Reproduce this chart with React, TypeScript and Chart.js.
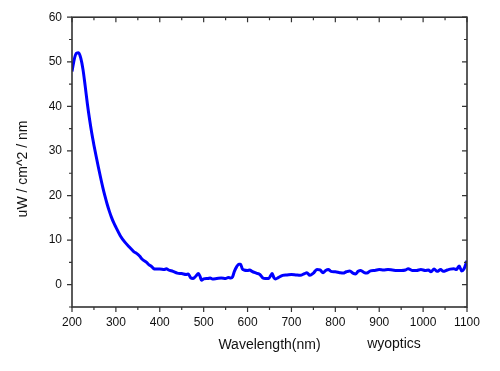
import React, { useEffect, useRef } from "react";
import { Chart, registerables } from "chart.js";

Chart.register(...registerables);

const wavelengths = [
  200, 205, 210, 215, 220, 225, 230, 235, 240, 245, 250, 255, 260, 265, 270, 275, 280, 285, 290, 295,
  300, 310, 320, 330, 340, 350, 355, 360, 370, 375, 380, 385, 390, 400, 410, 415, 420, 430, 440, 450,
  460, 465, 470, 476, 482, 488, 492, 495, 500, 510, 515, 520, 530, 540, 550, 556, 562, 566, 570, 575,
  580, 584, 588, 592, 600, 605, 610, 620, 628, 635, 640, 648, 653, 656, 660, 664, 670, 680, 690, 700,
  710, 720, 730, 735, 742, 750, 758, 765, 772, 778, 784, 790, 800, 810, 818, 825, 833, 840, 846, 852,
  858, 866, 872, 880, 890, 900, 910, 920, 930, 940, 950, 960, 966, 975, 985, 995, 1005, 1012, 1018, 1025,
  1032, 1040, 1046, 1055, 1062, 1070, 1076, 1082, 1088, 1093, 1098, 1100,
];

const irradiance = [
  47.8, 50.5, 51.9, 52.0, 50.8, 48.3, 44.6, 40.6, 37.1, 34.0, 31.3, 28.8, 26.4, 24.1, 21.9, 19.9, 18.1, 16.5, 15.1, 13.9,
  12.9, 11.0, 9.6, 8.5, 7.5, 6.8, 6.3, 5.7, 5.0, 4.5, 4.2, 3.7, 3.5, 3.5, 3.4, 3.6, 3.3, 3.0, 2.6, 2.5,
  2.3, 2.4, 1.6, 1.4, 1.9, 2.5, 1.8, 1.0, 1.3, 1.4, 1.5, 1.3, 1.4, 1.5, 1.4, 1.6, 1.5, 1.8, 3.0, 4.0,
  4.6, 4.6, 3.6, 3.3, 3.2, 3.3, 3.0, 2.6, 2.3, 1.5, 1.4, 1.4, 2.1, 2.5, 1.6, 1.3, 1.6, 2.1, 2.2, 2.3,
  2.2, 2.1, 2.5, 2.7, 2.1, 2.6, 3.4, 3.3, 2.7, 3.2, 3.4, 3.0, 2.9, 2.7, 2.6, 2.9, 3.1, 2.6, 2.4, 3.0,
  3.2, 2.7, 2.6, 3.1, 3.2, 3.4, 3.3, 3.4, 3.3, 3.2, 3.2, 3.3, 3.6, 3.2, 3.2, 3.4, 3.2, 3.3, 2.9, 3.5,
  3.0, 3.4, 3.0, 3.3, 3.5, 3.6, 3.4, 4.2, 3.1, 3.5, 4.8, 5.4,
];

const xMajorTicks = [200, 300, 400, 500, 600, 700, 800, 900, 1000, 1100];
const xMinorTicks = [250, 350, 450, 550, 650, 750, 850, 950, 1050];
const yMajorTicks = [0, 10, 20, 30, 40, 50, 60];
const yMinorTicks = [-5, 5, 15, 25, 35, 45, 55];

const xTitle = "Wavelength(nm)";
const yTitle = "uW / cm^2 / nm";
const watermark = "wyoptics";

const FONT = "Arial, 'Liberation Sans', sans-serif";
const AXIS_COLOR = "#333333";

const framePlugin = {
  id: "originFrame",
  afterDraw(chart: any) {
    const { ctx, chartArea } = chart;
    const { left, right, top, bottom } = chartArea;
    const xs = chart.scales.x;
    const ys = chart.scales.y;
    ctx.save();
    ctx.strokeStyle = AXIS_COLOR;
    ctx.lineWidth = 1.6;
    ctx.strokeRect(left, top, right - left, bottom - top);
    ctx.lineWidth = 1.2;
    const drawX = (vals: number[], len: number) => {
      vals.forEach((v) => {
        const px = xs.getPixelForValue(v);
        ctx.beginPath();
        ctx.moveTo(px, bottom);
        ctx.lineTo(px, bottom + len);
        ctx.moveTo(px, top);
        ctx.lineTo(px, top + len);
        ctx.stroke();
      });
    };
    const drawY = (vals: number[], len: number) => {
      vals.forEach((v) => {
        const py = ys.getPixelForValue(v);
        ctx.beginPath();
        ctx.moveTo(left, py);
        ctx.lineTo(left - len, py);
        ctx.moveTo(right, py);
        ctx.lineTo(right - len, py);
        ctx.stroke();
      });
    };
    drawX(xMajorTicks, 5);
    drawX(xMinorTicks, 3);
    drawY(yMajorTicks, 5);
    drawY(yMinorTicks, 3);

    ctx.fillStyle = "#111111";
    ctx.font = `14px ${FONT}`;
    ctx.textAlign = "center";
    ctx.textBaseline = "middle";
    ctx.fillText(xTitle, (left + right) / 2, 345);
    ctx.fillText(watermark, 394, 344);
    ctx.translate(23, 169);
    ctx.rotate(-Math.PI / 2);
    ctx.fillText(yTitle, 0, 0);
    ctx.restore();
  },
};

export default function App() {
  const canvasRef = useRef<HTMLCanvasElement | null>(null);

  useEffect(() => {
    document.body.style.margin = "0";
    const canvas = canvasRef.current;
    if (!canvas) return;
    const chart = new Chart(canvas, {
      type: "line",
      data: {
        datasets: [
          {
            data: wavelengths.map((w, i) => ({ x: w, y: irradiance[i] })),
            borderColor: "#0000ff",
            borderWidth: 3,
            pointRadius: 0,
            cubicInterpolationMode: "monotone",
            fill: false,
          },
        ],
      },
      options: {
        responsive: false,
        animation: false,
        layout: { padding: { left: 0, right: 33, top: 17, bottom: 0 } },
        plugins: { legend: { display: false }, tooltip: { enabled: false } },
        scales: {
          x: {
            type: "linear",
            min: 200,
            max: 1100,
            afterFit: (s: any) => {
              s.height = 64;
            },
            afterBuildTicks: (s: any) => {
              s.ticks = xMajorTicks.map((v) => ({ value: v }));
            },
            grid: { display: false, drawTicks: false },
            border: { display: false },
            ticks: {
              padding: 8,
              color: "#111111",
              font: { family: FONT, size: 12 },
              callback: (v: any) => String(v),
            },
          },
          y: {
            type: "linear",
            min: -5,
            max: 60,
            afterFit: (s: any) => {
              s.width = 72;
            },
            afterBuildTicks: (s: any) => {
              s.ticks = yMajorTicks.map((v) => ({ value: v }));
            },
            grid: { display: false, drawTicks: false },
            border: { display: false },
            ticks: {
              padding: 10,
              color: "#111111",
              font: { family: FONT, size: 12 },
              callback: (v: any) => String(v),
            },
          },
        },
      },
      plugins: [framePlugin],
    });
    return () => chart.destroy();
  }, []);

  return (
    <div style={{ width: 500, height: 371, background: "#ffffff" }}>
      <canvas ref={canvasRef} width={500} height={371} />
    </div>
  );
}
